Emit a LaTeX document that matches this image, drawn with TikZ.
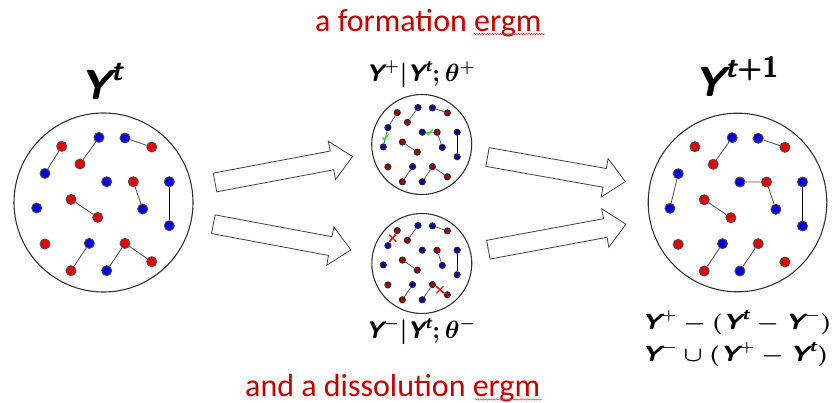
\documentclass[tikz,border=0pt]{standalone}
\usepackage{amsmath}
\usepackage{fontspec}
\newfontfamily\calib{Carlito}
\usetikzlibrary{decorations.pathmorphing}
\definecolor{ered}{RGB}{192,0,0}
\definecolor{dotred}{RGB}{228,0,0}
\definecolor{dotblue}{RGB}{0,0,225}
\definecolor{mgreen}{RGB}{30,225,30}
\newcommand{\sY}{\textsf{\bfseries\itshape Y}}
\newcommand{\st}{\textsf{\bfseries\itshape t}}
\newcommand{\dotset}[4]{%
 \begin{scope}[shift={#2},scale=#3]
  \foreach \n/\px/\py in {1/-41.8/-56.8,2/-23.5/-39.2,3/48.2/-56.2,4/29.8/-21.5,5/-32.5/-3.8,6/-5.8/14.2,7/-58.5/40.8,8/-32.5/67.5,9/21.5/40.2,10/48.2/58.5}
   \node[#4 red dot] (#1R\n) at (\px,\py) {};
  \foreach \n/\px/\py in {1/-4.5/-65.8,2/21.5/-65.2,3/-58.5/-29.8,4/3.2/-21.5,5/65.8/-21.5,6/-66.8/4.8,7/39.2/5.8,8/65.8/22.5,9/-14.2/40.2,10/3.2/67.5}
   \node[#4 blue dot] (#1B\n) at (\px,\py) {};
 \end{scope}}
\newcommand{\commonedges}[2]{%
 \draw[#2 edge] (#1B1)--(#1R2) (#1B2)--(#1R3) (#1R4)--(#1B7) (#1R5)--(#1R6) (#1B9)--(#1R8) (#1R9)--(#1B10);
 \draw[#2 thick edge] (#1B5)--(#1B8);}
\tikzset{
 big red dot/.style={circle,inner sep=0pt,minimum size=10pt,fill=dotred,draw=black!70,line width=0.9pt},
 big blue dot/.style={circle,inner sep=0pt,minimum size=10pt,fill=dotblue,draw=black!70,line width=0.9pt},
 small red dot/.style={circle,inner sep=0pt,minimum size=6pt,fill=red!65!black,draw=black!85,line width=1.1pt},
 small blue dot/.style={circle,inner sep=0pt,minimum size=6pt,fill=blue!70!black,draw=black!85,line width=1.1pt},
 big edge/.style={draw=black!65,line width=0.9pt},
 big thick edge/.style={draw=black,line width=1.6pt},
 small edge/.style={draw=black!65,line width=0.8pt},
 small thick edge/.style={draw=black,line width=1.2pt},
 world/.style={draw=black!80,line width=1.1pt},
 blockarrow/.style={draw=black!75,line width=0.8pt,fill=white,line join=miter},
 redtext/.style={text=ered,font=\calib\fontsize{32}{38}\selectfont,inner sep=0pt},
 squiggle/.style={draw=red!80,line width=0.5pt,decorate,decoration={snake,amplitude=0.7pt,segment length=2.6pt}},
 bigtitle/.style={font=\boldmath\fontsize{42}{48}\selectfont,inner sep=0pt},
 midtitle/.style={font=\boldmath\fontsize{24}{28}\selectfont,inner sep=0pt},
 formula/.style={font=\boldmath\fontsize{22}{26}\selectfont,inner sep=0pt},
 check/.style={draw=mgreen,line width=1.2pt,line cap=round,line join=round},
 cross/.style={draw=red,line width=1.2pt,line cap=round}
}
\begin{document}
\begin{tikzpicture}[x=1pt,y=-1pt]
\useasboundingbox[fill=white] (0,0) rectangle (834,403);
% red captions
\node[redtext,anchor=base west] (capA) at (315,31.5) {a formation ergm};
\node[redtext,anchor=base west] (capB) at (245,396) {and a dissolution ergm};
\draw[squiggle] (473.5,34) -- (545,34);
\draw[squiggle] (475,399.5) -- (541.7,399.5);
% worlds
\draw[world] (103.5,202.5) circle (89.5);
\draw[world] (737.5,202.5) circle (89.3);
\draw[world] (421.7,144.5) circle (50);
\draw[world] (421.8,263.5) circle (50);
% titles
\node[bigtitle,anchor=base] (tL) at (102,100) {$\sY^{\st}$};
\node[bigtitle,anchor=base] (tR) at (736.7,96.7) {$\sY^{\textsf{\bfseries\itshape t\upshape+1}}$};
\node[midtitle,anchor=base] (tF) at (420.8,81.7) {$\sY^{+}|\sY^{\st};\theta^{+}$};
\node[midtitle,anchor=base] (tD) at (420.8,338) {$\sY^{-}|\sY^{\st};\theta^{-}$};
\node[formula,anchor=base west] (f1) at (641.7,329.3) {\scalebox{1.2}[1]{$\sY^{+}-(\sY^{\st}-\sY^{-})$}};
\node[formula,anchor=base west] (f2) at (641.7,361.7) {\scalebox{1.2}[1]{$\sY^{-}\cup(\sY^{+}-\sY^{\st})$}};
% block arrows
\foreach \tx/\ty/\ang in {215/182.5/10.7, 213.3/224.2/-10.6, 487.5/157/-10.1, 488.3/249.7/10.5}{
 \begin{scope}[shift={(\tx,\ty)},rotate=\ang]
  \draw[blockarrow] (0,-9.5) -- (119,-9.5) -- (119,-19.5) -- (140,0) -- (119,19.5) -- (119,9.5) -- (0,9.5) -- cycle;
 \end{scope}}
% dots
\dotset{L}{(103.5,203.2)}{1}{big}
\dotset{R}{(736.7,203.5)}{1}{big}
\dotset{F}{(420.5,144.2)}{0.557}{small}
\dotset{D}{(420.5,262.2)}{0.557}{small}
% edges: Y^t
\commonedges{L}{big}
\draw[big edge] (LR1)--(LB3) (LR9)--(LR10);
% Y^{t+1}
\commonedges{R}{big}
\draw[big edge] (RB3)--(RB6) (RB4)--(RR4);
% formation
\commonedges{F}{small}
\draw[small edge] (FR1)--(FB3) (FR9)--(FR10) (FB3)--(FB6) (FB4)--(FR4);
\path (FB3) -- (FB6) coordinate[pos=0.5] (c1);
\path (FB4) -- (FR4) coordinate[pos=0.5] (c2);
\draw[check] ([shift={(-3,0.5)}]c1) -- ([shift={(-1.3,2.5)}]c1) -- ([shift={(3,-3)}]c1);
\draw[check] ([shift={(-3,0.5)}]c2) -- ([shift={(-1.3,2.5)}]c2) -- ([shift={(3,-3)}]c2);
% dissolution
\commonedges{D}{small}
\draw[small edge] (DR1)--(DB3) (DR9)--(DR10);
\path (DR1) -- (DB3) coordinate[pos=0.5] (x1);
\path (DR9) -- (DR10) coordinate[pos=0.5] (x2);
\foreach \c in {x1,x2}{
 \draw[cross] ([shift={(-3.3,-3.3)}]\c) -- ([shift={(3.3,3.3)}]\c);
 \draw[cross] ([shift={(-3.3,3.3)}]\c) -- ([shift={(3.3,-3.3)}]\c);}
\end{tikzpicture}
\end{document}
